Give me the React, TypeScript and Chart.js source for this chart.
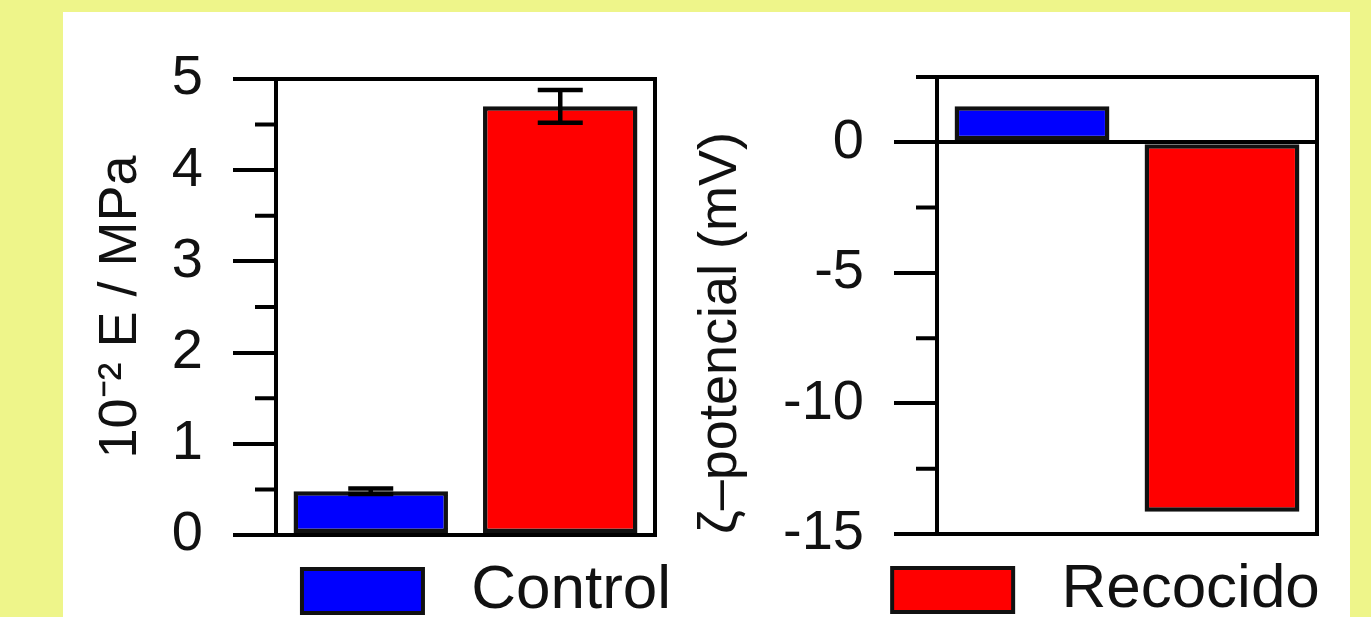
import { useEffect, useRef } from 'react';
import { Chart, registerables } from 'chart.js';

Chart.register(...registerables);

// ---- data ----
const categories = ['Control', 'Recocido'];
const modulusValues = [0.48, 4.7];
const modulusErrors = [0.03, 0.18];
const zetaValues = [1.38, -14.15];
const modulusMajorTicks = [0, 1, 2, 3, 4, 5];
const modulusMinorTicks = [0.5, 1.5, 2.5, 3.5, 4.5];
const zetaMajorTicks = [-15, -10, -5, 0];
const zetaMinorTicks = [-12.5, -7.5, -2.5, 2.5];

// ---- styles ----
const FONT = "'Liberation Sans', Arial, sans-serif";
const COLORS = ['#0000ff', '#ff0000'];
const INK = '#111';
const BG = '#eef58a';

Chart.defaults.font.family = FONT;

function makeDatasets(values: number[]) {
  return categories.map((name, i) => ({
    label: name,
    data: values.map((v, j) => (j === i ? v : null)),
    backgroundColor: COLORS[i],
    borderColor: INK,
    borderWidth: 4.5,
    borderSkipped: false as const,
    grouped: false,
    categoryPercentage: 0.815,
    barPercentage: 1,
  }));
}

function framePlugin(minor: number[], errValues?: number[], errs?: number[]) {
  return {
    id: 'frameTicks',
    afterDatasetsDraw(chart: any) {
      const { ctx, chartArea: a, scales } = chart;
      const y = scales.y;
      const x = scales.x;
      ctx.save();
      ctx.strokeStyle = '#000';
      ctx.lineWidth = 4;
      ctx.strokeRect(a.left, a.top, a.right - a.left, a.bottom - a.top);
      ctx.beginPath();
      minor.forEach((v) => {
        const p = y.getPixelForValue(v);
        ctx.moveTo(a.left - 21, p);
        ctx.lineTo(a.left, p);
      });
      ctx.stroke();
      if (errValues && errs) {
        ctx.lineWidth = 4.5;
        ctx.beginPath();
        errValues.forEach((v, j) => {
          const cx = x.getPixelForValue(j);
          const top = y.getPixelForValue(v + errs[j]);
          const bot = y.getPixelForValue(v - errs[j]);
          ctx.moveTo(cx, top);
          ctx.lineTo(cx, bot);
          ctx.moveTo(cx - 22.5, top);
          ctx.lineTo(cx + 22.5, top);
          ctx.moveTo(cx - 22.5, bot);
          ctx.lineTo(cx + 22.5, bot);
        });
        ctx.stroke();
      }
      ctx.restore();
    },
  };
}

function legendFor(index: number) {
  return {
    position: 'bottom' as const,
    labels: {
      boxWidth: 121,
      boxHeight: 44,
      padding: 25,
      color: INK,
      font: { size: 62, family: FONT },
      generateLabels: (chart: any) =>
        Chart.defaults.plugins.legend.labels
          .generateLabels(chart)
          .filter((it: any) => it.datasetIndex === index)
          .map((it: any) => ({ ...it, text: ' ' + it.text, lineWidth: 4, strokeStyle: INK })),
    },
  };
}

function yAxis(opts: {
  min: number;
  max: number;
  majors: number[];
  width: number;
  title: string;
  titleAlign: 'start' | 'center';
  zeroLine: boolean;
}) {
  return {
    min: opts.min,
    max: opts.max,
    afterBuildTicks: (s: any) => {
      s.ticks = opts.majors.map((v) => ({ value: v }));
    },
    afterFit: (s: any) => {
      s.width = opts.width;
    },
    border: { display: true, width: 4, color: '#000' },
    grid: {
      drawOnChartArea: opts.zeroLine,
      color: (c: any) => (c.tick && c.tick.value === 0 ? '#000' : 'rgba(0,0,0,0)'),
      lineWidth: 4,
      tickLength: 43,
      tickWidth: 4,
      tickColor: '#000',
    },
    ticks: { padding: 30, color: INK, font: { size: 56, family: FONT } },
    title: {
      display: true,
      text: opts.title,
      align: opts.titleAlign,
      color: INK,
      font: { size: 54, family: FONT },
      padding: { top: 89, bottom: 0 },
    },
  };
}

function spacer(width: number) {
  return {
    position: 'right' as const,
    display: true,
    afterFit: (s: any) => {
      s.width = width;
    },
    grid: { display: false },
    ticks: { display: false },
    border: { display: false },
  };
}

export default function App() {
  const leftRef = useRef<HTMLCanvasElement>(null);
  const rightRef = useRef<HTMLCanvasElement>(null);

  useEffect(() => {
    const left = new Chart(leftRef.current!, {
      type: 'bar',
      data: { labels: categories, datasets: makeDatasets(modulusValues) as any },
      options: {
        responsive: false,
        animation: false,
        layout: { padding: { top: 79, left: 0, right: 0, bottom: 0 } },
        plugins: { legend: legendFor(0) as any, tooltip: { enabled: false } },
        scales: {
          x: { display: false },
          y: yAxis({
            min: 0,
            max: 5,
            majors: modulusMajorTicks,
            width: 276,
            title: '10⁻² E / MPa',
            titleAlign: 'center',
            zeroLine: false,
          }) as any,
          yR: spacer(318) as any,
        },
      },
      plugins: [framePlugin(modulusMinorTicks, modulusValues, modulusErrors)],
    });
    const right = new Chart(rightRef.current!, {
      type: 'bar',
      data: { labels: categories, datasets: makeDatasets(zetaValues) as any },
      options: {
        responsive: false,
        animation: false,
        layout: { padding: { top: 77, left: 0, right: 0, bottom: 0 } },
        plugins: { legend: legendFor(1) as any, tooltip: { enabled: false } },
        scales: {
          x: { display: false },
          y: yAxis({
            min: -15,
            max: 2.5,
            majors: zetaMajorTicks,
            width: 337,
            title: 'ζ–potencial (mV)',
            titleAlign: 'start',
            zeroLine: true,
          }) as any,
          yR: spacer(295) as any,
        },
      },
      plugins: [framePlugin(zetaMinorTicks)],
    });
    return () => {
      left.destroy();
      right.destroy();
    };
  }, []);

  return (
    <div
      style={{
        position: 'fixed',
        left: 0,
        top: 0,
        width: 1371,
        height: 617,
        overflow: 'hidden',
        background: BG,
      }}
    >
      <div
        style={{ position: 'absolute', left: 63, top: 12, width: 1287, height: 620, background: '#fff' }}
      />
      <canvas
        ref={leftRef}
        width={973}
        height={632}
        style={{ position: 'absolute', left: 0, top: 0 }}
      />
      <canvas
        ref={rightRef}
        width={1012}
        height={631}
        style={{ position: 'absolute', left: 600, top: 0 }}
      />
    </div>
  );
}
